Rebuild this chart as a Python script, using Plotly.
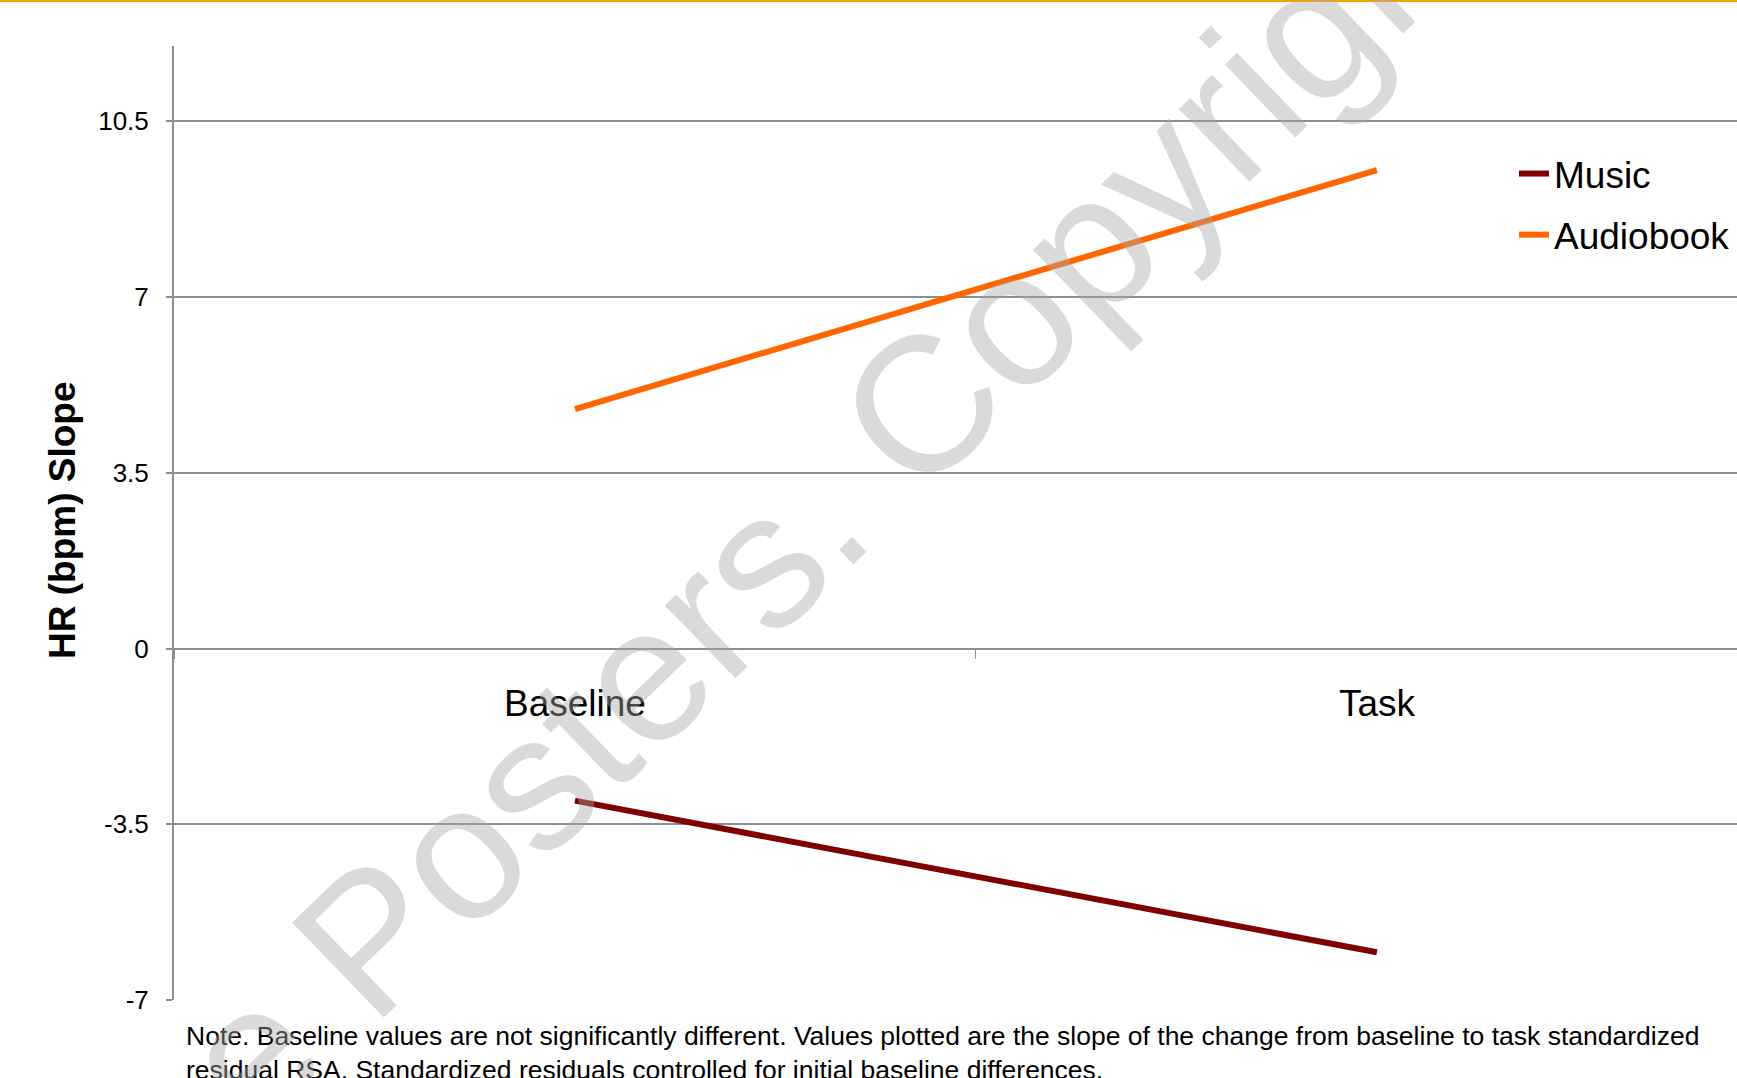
import plotly.graph_objects as go

# Conditions on the x axis and the HR slope for each group
conditions = ["Baseline", "Task"]
music_slope = [-3.03, -6.05]
audiobook_slope = [4.77, 9.53]

# Y axis ticks
y_tickvals = [-7, -3.5, 0, 3.5, 7, 10.5]
y_ticktext = ["-7", "-3.5", "0", "3.5", "7", "10.5"]

note_text = ("Note. Baseline values are not significantly different. Values plotted are the slope "
             "of the change from baseline to task standardized<br>"
             "residual RSA. Standardized residuals controlled for initial baseline differences.")

FONT = "Arial, Liberation Sans, sans-serif"
GRID = "#8e8e8e"

W, H = 1737, 1078
ML, MR, MT, MB = 174, 0, 46, 78
PW, PH = W - ML - MR, H - MT - MB


def px_x(x):
    return (x - ML) / PW


def px_y(y):
    return (H - MB - y) / PH


fig = go.Figure()
fig.add_trace(go.Scatter(
    x=conditions, y=music_slope, name="Music", mode="lines",
    line=dict(color="#800000", width=6), legendgroup="m"))
fig.add_trace(go.Scatter(
    x=conditions, y=audiobook_slope, name="Audiobook", mode="lines",
    line=dict(color="#FF6600", width=6), legendgroup="a"))

y_min, y_max = -7, 12
zero_pos = (0 - y_min) / (y_max - y_min)

fig.update_layout(
    width=W, height=H,
    margin=dict(l=ML, r=MR, t=MT, b=MB),
    paper_bgcolor="white", plot_bgcolor="white",
    font=dict(family=FONT, color="black"),
    showlegend=True,
    legend=dict(
        x=px_x(1514), xanchor="left", y=px_y(143), yanchor="top",
        font=dict(size=37, family=FONT), bgcolor="rgba(0,0,0,0)",
        tracegroupgap=10, traceorder="grouped"),
    xaxis=dict(
        type="category", range=[-0.5, 1.449],
        anchor="free", position=zero_pos,
        showgrid=False, zeroline=False,
        showline=True, linecolor=GRID, linewidth=2,
        ticks="outside", tickson="boundaries", ticklen=9, tickwidth=1,
        tickcolor=GRID, ticklabelstandoff=22,
        tickfont=dict(size=37, family=FONT)),
    yaxis=dict(
        range=[y_min, y_max],
        tickvals=y_tickvals, ticktext=y_ticktext,
        showgrid=True, gridcolor=GRID, gridwidth=2,
        zeroline=False,
        showline=True, linecolor=GRID, linewidth=2,
        ticks="outside", ticklen=6, tickwidth=2, tickcolor=GRID,
        ticklabelstandoff=12,
        tickfont=dict(size=26, family=FONT)),
)

# Orange rule across the top edge
fig.add_shape(type="line", xref="paper", yref="paper",
              x0=px_x(0), x1=px_x(W), y0=px_y(1), y1=px_y(1),
              line=dict(color="#F7A000", width=2))

# Y axis title
fig.add_annotation(
    text="<b>HR (bpm) Slope</b>", xref="paper", yref="paper",
    x=px_x(62), y=px_y(521), xanchor="center", yanchor="middle",
    textangle=-90, showarrow=False,
    font=dict(size=37, family=FONT, color="black"))

# Footnote under the plot
fig.add_annotation(
    text=note_text, xref="paper", yref="paper",
    x=px_x(184), y=px_y(1019), xanchor="left", yanchor="top",
    align="left", showarrow=False,
    font=dict(size=26.5, family=FONT, color="black"))

# Diagonal copyright watermark
fig.add_annotation(
    text="e Posters. Copyright", xref="paper", yref="paper",
    x=px_x(836), y=px_y(488), xanchor="center", yanchor="middle",
    textangle=-44, showarrow=False,
    font=dict(size=192, family=FONT, color="rgba(168,168,168,0.42)"))

fig.write_html("out.html")
